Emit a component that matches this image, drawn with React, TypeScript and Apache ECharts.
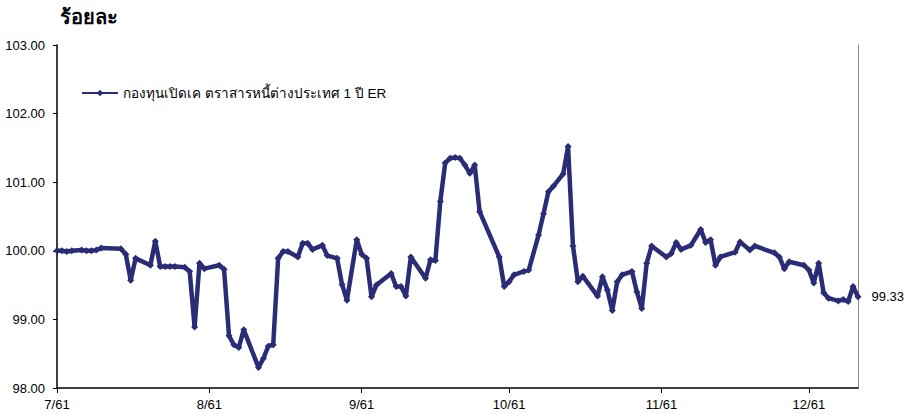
import React, { useEffect, useRef } from "react";
import * as echarts from "echarts";

const seriesName = "กองทุนเปิดเค ตราสารหนี้ต่างประเทศ 1 ปี ER";
const yTitle = "ร้อยละ";
const totalDays = 164; // day 0 = 1 Jul 2561
const monthStartIdx = [0, 31, 62, 92, 123, 153];
const monthLabels = ["7/61", "8/61", "9/61", "10/61", "11/61", "12/61"];

const dayIdx = [
  0, 1, 2, 3, 5, 6, 7, 8, 9, 13, 14, 15, 16, 19, 20, 21, 22, 23, 24, 26, 27, 28, 29, 30,
  33, 34, 35, 36, 37, 38, 41, 42, 43, 44, 45, 46, 47, 49, 50, 51, 52, 54, 55, 57, 58, 59,
  61, 62, 63, 64, 65, 68, 69, 70, 71, 72, 75, 76, 77, 78, 79, 80, 81, 82, 83, 84, 85, 86,
  90, 91, 92, 93, 95, 96, 98, 99, 100, 101, 103, 104, 105, 106, 107, 110, 111, 112, 113,
  114, 115, 117, 118, 119, 120, 121, 124, 125, 126, 127, 129, 131, 132, 133, 134, 135, 138,
  139, 141, 142, 146, 147, 148, 149, 152, 153, 154, 155, 156, 157, 159, 160, 161, 162, 163,
];
const navValues = [
  100.0, 100.0, 99.99, 100.0, 100.01, 100.0, 100.0, 100.01, 100.04, 100.03, 99.95, 99.57,
  99.89, 99.79, 100.14, 99.77, 99.77, 99.77, 99.77, 99.76, 99.7, 98.89, 99.82, 99.74,
  99.79, 99.73, 98.76, 98.63, 98.59, 98.85, 98.3, 98.43, 98.61, 98.63, 99.89, 99.99, 99.99,
  99.91, 100.11, 100.11, 100.02, 100.08, 99.93, 99.89, 99.51, 99.28,
  100.16, 99.95, 99.89, 99.33, 99.5, 99.67, 99.48, 99.48, 99.34, 99.91, 99.6, 99.87, 99.86,
  100.72, 101.28, 101.35, 101.36, 101.35, 101.25, 101.13, 101.25, 100.57,
  99.91, 99.48, 99.55, 99.65, 99.7, 99.72, 100.23, 100.54, 100.86, 100.94, 101.12, 101.52,
  100.07, 99.55, 99.63, 99.34, 99.62, 99.43, 99.13,
  99.55, 99.65, 99.7, 99.4, 99.16, 99.82, 100.07, 99.91, 99.96, 100.12, 100.02, 100.08,
  100.31, 100.12, 100.16, 99.79, 99.91, 99.98,
  100.13, 100.01, 100.07, 99.97, 99.91, 99.74, 99.84, 99.79, 99.72, 99.53, 99.82, 99.39,
  99.31, 99.27, 99.29, 99.26, 99.48, 99.33,
];
const lastLabel = "99.33";

const FONT = "'Liberation Sans', Arial, 'Noto Sans', sans-serif";
const LINE_COLOR = "#2A2C76";

export default function App() {
  const ref = useRef<HTMLDivElement>(null);
  useEffect(() => {
    if (!ref.current) return;
    const chart = echarts.init(ref.current, undefined, { renderer: "svg" });
    const categories = Array.from({ length: totalDays }, (_, i) => String(i));
    const isMonthStart = (i: number) => monthStartIdx.includes(i);
    const data = dayIdx.map((d, i) => {
      const item: any = { value: [d, navValues[i]] };
      if (i === dayIdx.length - 1) {
        item.label = {
          show: true,
          position: "right",
          distance: 10,
          formatter: lastLabel,
          color: "#000",
          fontSize: 13,
          fontFamily: FONT,
        };
      }
      return item;
    });
    chart.setOption({
      animation: false,
      backgroundColor: "#fff",
      title: {
        text: yTitle,
        left: 55,
        top: 2,
        textStyle: { fontSize: 20, fontWeight: "bold", color: "#000", fontFamily: FONT },
      },
      legend: {
        left: 76,
        top: 81,
        itemWidth: 36,
        itemHeight: 8,
        itemGap: 2,
        textStyle: { fontSize: 13.5, color: "#000", fontFamily: FONT },
        data: [seriesName],
      },
      grid: { left: 57, right: 49, top: 45, bottom: 26, containLabel: false, outerBoundsMode: "none" },
      xAxis: {
        type: "category",
        data: categories,
        boundaryGap: false,
        axisLine: { show: true, lineStyle: { color: "#000", width: 1.5 } },
        axisTick: { show: true, interval: (i: number) => isMonthStart(i), length: 5, lineStyle: { color: "#000" } },
        axisLabel: {
          interval: (i: number) => isMonthStart(i),
          formatter: (_v: string, i: number) => {
            const k = monthStartIdx.indexOf(i);
            return k >= 0 ? monthLabels[k] : "";
          },
          color: "#000",
          fontSize: 13,
          fontFamily: FONT,
          margin: 10,
        },
        splitLine: { show: false },
      },
      yAxis: [
        {
          type: "value",
          min: 98,
          max: 103,
          interval: 1,
          axisLine: { show: true, lineStyle: { color: "#000", width: 1.5 } },
          axisTick: { show: true, length: 4, lineStyle: { color: "#000" } },
          axisLabel: {
            formatter: (v: number) => v.toFixed(2),
            color: "#000",
            fontSize: 13,
            fontFamily: FONT,
            margin: 12,
          },
          splitLine: { show: false },
        },
        {
          type: "value",
          min: 98,
          max: 103,
          interval: 1,
          position: "right",
          axisLine: { show: true, lineStyle: { color: "#888", width: 1 } },
          axisTick: { show: false },
          axisLabel: { show: false },
          splitLine: { show: false },
        },
      ],
      series: [
        {
          name: seriesName,
          type: "line",
          data,
          yAxisIndex: 0,
          symbol: "diamond",
          symbolSize: 7,
          showAllSymbol: true,
          lineStyle: { color: LINE_COLOR, width: 4.5, join: "round" },
          itemStyle: { color: LINE_COLOR },
          emphasis: { disabled: true },
        },
      ],
    });
    return () => chart.dispose();
  }, []);
  return (
    <div
      ref={ref}
      style={{ position: "absolute", left: 0, top: 0, width: 907, height: 414 }}
    />
  );
}
